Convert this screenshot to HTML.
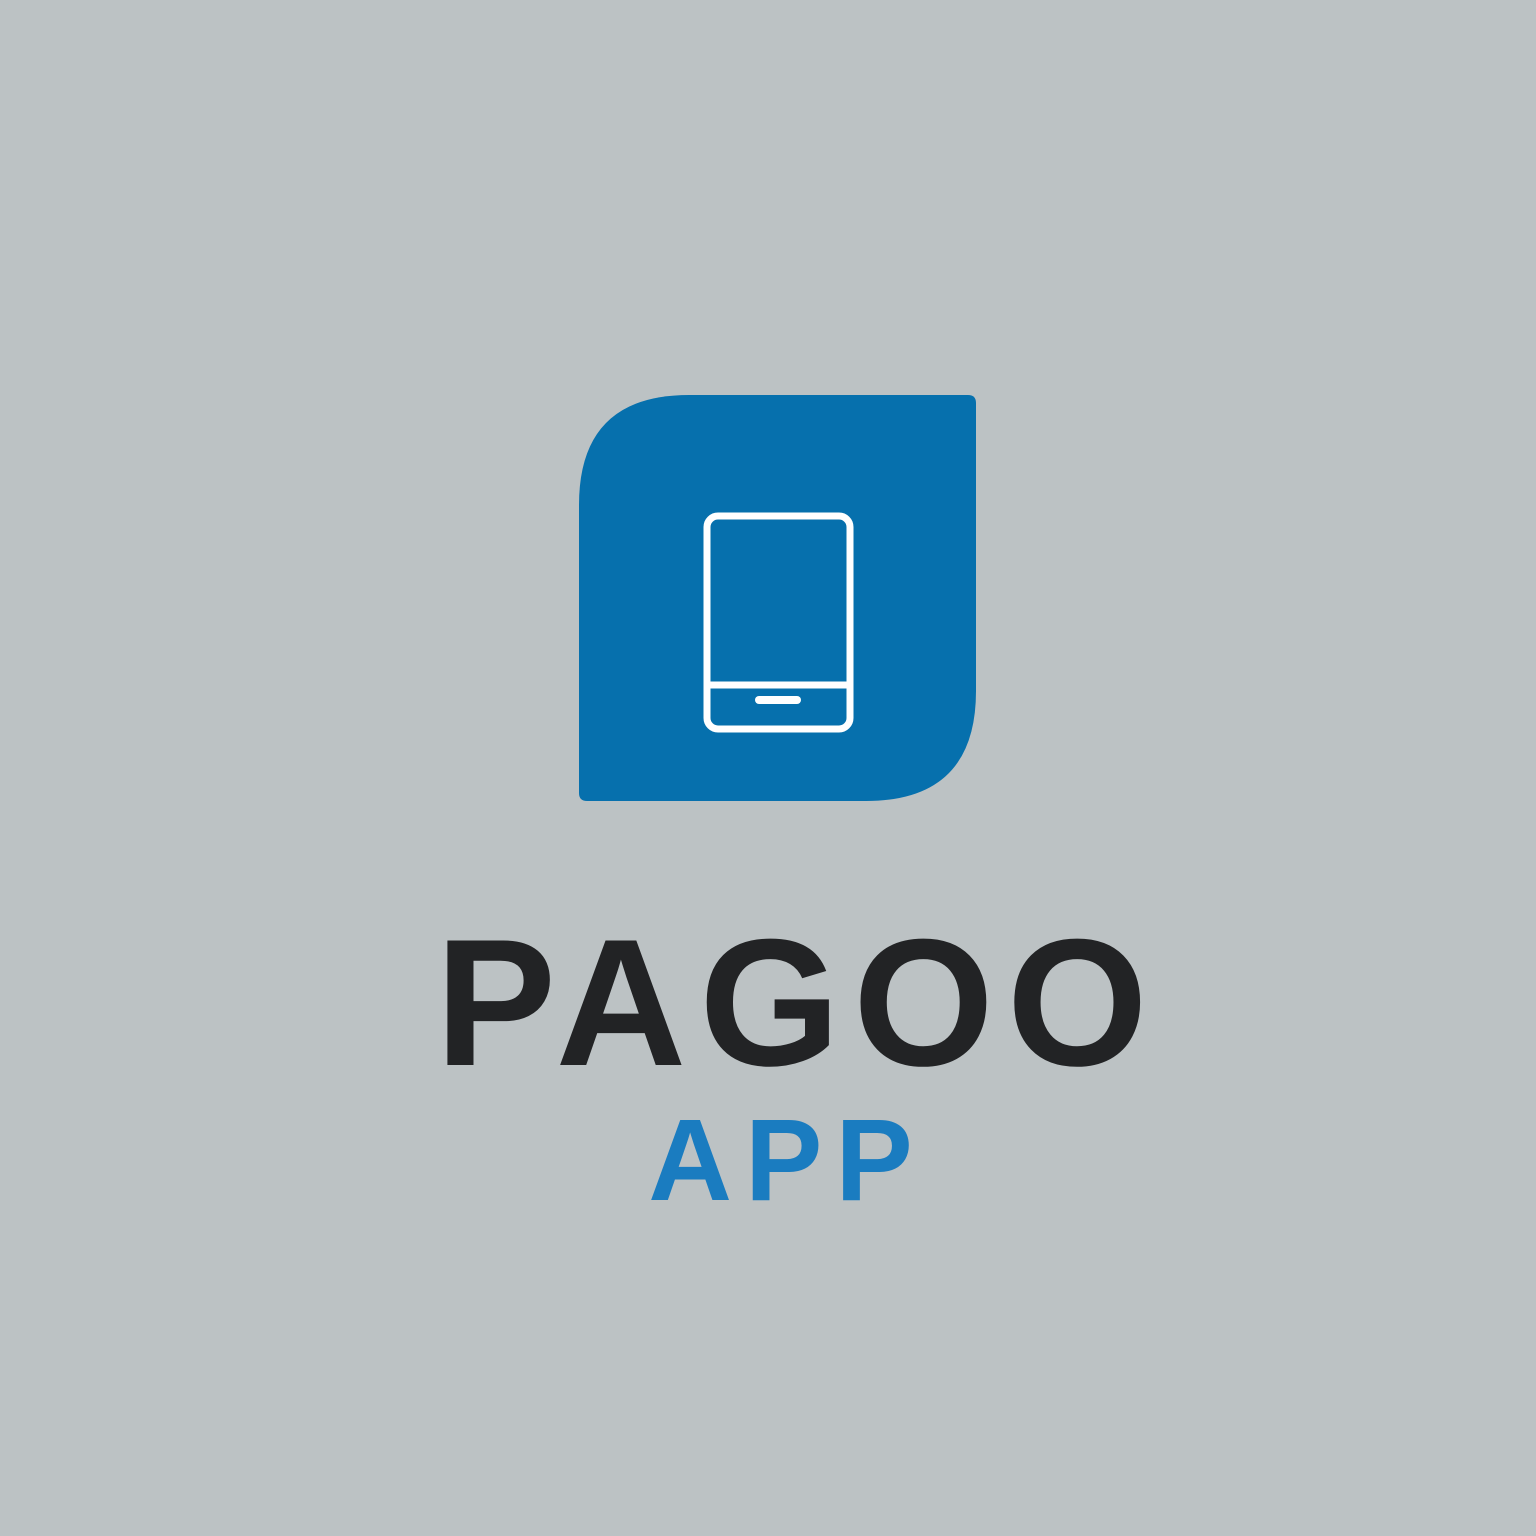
<!DOCTYPE html>
<html><head><meta charset="utf-8"><style>
html,body{margin:0;padding:0;width:1536px;height:1536px;overflow:hidden;background:#bcc2c4}
</style></head><body>
<svg width="1536" height="1536" viewBox="0 0 1536 1536" xmlns="http://www.w3.org/2000/svg">
<rect x="0" y="0" width="1536" height="1536" fill="#bcc2c4"/>
<path d="M689 395 H968 Q976 395 976 403 V691 Q976 801 866 801 H587 Q579 801 579 793 V505 Q579 395 689 395 Z" fill="#0670ad"/>
<g fill="none" stroke="#ffffff" stroke-width="7">
<rect x="707" y="516" width="143" height="213" rx="11"/>
<line x1="707" y1="685" x2="850" y2="685"/>
<rect x="755" y="696" width="46" height="8" rx="4" fill="#ffffff" stroke-width="0"/>
</g>
<text x="798" y="1065" text-anchor="middle" font-family="Liberation Sans, sans-serif" font-weight="bold" font-size="181" letter-spacing="13" fill="#222325">PAGOO</text>
<text x="787" y="1200" text-anchor="middle" font-family="Liberation Sans, sans-serif" font-weight="bold" font-size="116" letter-spacing="13" fill="#1a7cc0">APP</text>
</svg>
</body></html>
